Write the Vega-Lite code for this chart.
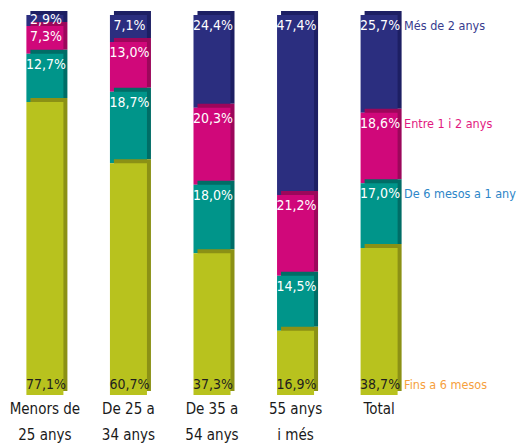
{
  "$schema": "https://vega.github.io/schema/vega-lite/v6.json",
  "width": 418,
  "height": 380,
  "autosize": {"type": "none"},
  "padding": {"left": 3, "top": 15, "right": 96, "bottom": 52},
  "background": "white",
  "config": {
    "view": {"stroke": null},
    "locale": {"number": {"decimal": ",", "thousands": ".", "grouping": [3], "currency": ["", "%"]}},
    "text": {"font": "DejaVu Sans Condensed, sans-serif"}
  },
  "data": {
    "values": [
      {"cat": "Menors de 25 anys", "serie": "Fins a 6 mesos", "k": 1, "v": 77.1},
      {"cat": "Menors de 25 anys", "serie": "De 6 mesos a 1 any", "k": 2, "v": 12.7},
      {"cat": "Menors de 25 anys", "serie": "Entre 1 i 2 anys", "k": 3, "v": 7.3},
      {"cat": "Menors de 25 anys", "serie": "Més de 2 anys", "k": 4, "v": 2.9},
      {"cat": "De 25 a 34 anys", "serie": "Fins a 6 mesos", "k": 1, "v": 60.7},
      {"cat": "De 25 a 34 anys", "serie": "De 6 mesos a 1 any", "k": 2, "v": 18.7},
      {"cat": "De 25 a 34 anys", "serie": "Entre 1 i 2 anys", "k": 3, "v": 13.0},
      {"cat": "De 25 a 34 anys", "serie": "Més de 2 anys", "k": 4, "v": 7.1},
      {"cat": "De 35 a 54 anys", "serie": "Fins a 6 mesos", "k": 1, "v": 37.3},
      {"cat": "De 35 a 54 anys", "serie": "De 6 mesos a 1 any", "k": 2, "v": 18.0},
      {"cat": "De 35 a 54 anys", "serie": "Entre 1 i 2 anys", "k": 3, "v": 20.3},
      {"cat": "De 35 a 54 anys", "serie": "Més de 2 anys", "k": 4, "v": 24.4},
      {"cat": "55 anys i més", "serie": "Fins a 6 mesos", "k": 1, "v": 16.9},
      {"cat": "55 anys i més", "serie": "De 6 mesos a 1 any", "k": 2, "v": 14.5},
      {"cat": "55 anys i més", "serie": "Entre 1 i 2 anys", "k": 3, "v": 21.2},
      {"cat": "55 anys i més", "serie": "Més de 2 anys", "k": 4, "v": 47.4},
      {"cat": "Total", "serie": "Fins a 6 mesos", "k": 1, "v": 38.7},
      {"cat": "Total", "serie": "De 6 mesos a 1 any", "k": 2, "v": 17.0},
      {"cat": "Total", "serie": "Entre 1 i 2 anys", "k": 3, "v": 18.6},
      {"cat": "Total", "serie": "Més de 2 anys", "k": 4, "v": 25.7}
    ]
  },
  "transform": [
    {"stack": "v", "groupby": ["cat"], "sort": [{"field": "k", "order": "ascending"}], "offset": "normalize", "as": ["y0", "y1"]}
  ],
  "encoding": {
    "x": {
      "field": "cat", "type": "nominal", "sort": null,
      "scale": {"paddingInner": 0.557, "paddingOuter": 0.28},
      "axis": {
        "title": null, "domain": false, "ticks": false, "labelAngle": 0,
        "labelFont": "DejaVu Sans Condensed, sans-serif",
        "labelFontSize": 15, "labelColor": "#1a1a1a", "labelLineHeight": 26, "labelPadding": 6,
        "labelExpr": "datum.value == 'Menors de 25 anys' ? ['Menors de', '25 anys'] : datum.value == 'De 25 a 34 anys' ? ['De 25 a', '34 anys'] : datum.value == 'De 35 a 54 anys' ? ['De 35 a', '54 anys'] : datum.value == '55 anys i més' ? ['55 anys', 'i més'] : datum.value"
      }
    },
    "y": {"field": "y0", "type": "quantitative", "scale": {"domain": [0, 1], "nice": false}, "axis": null}
  },
  "layer": [
    {"transform": [{"filter": "datum.k == 4"}], "mark": {"type": "bar", "color": "#1d1f63", "xOffset": 4, "yOffset": -4, "y2Offset": -4}, "encoding": {"y2": {"field": "y1"}}},
    {"transform": [{"filter": "datum.k == 4"}], "mark": {"type": "bar", "color": "#2b2e7f"}, "encoding": {"y2": {"field": "y1"}}},
    {"transform": [{"filter": "datum.k == 3"}], "mark": {"type": "bar", "color": "#9c075b", "xOffset": 4, "yOffset": -4, "y2Offset": -4}, "encoding": {"y2": {"field": "y1"}}},
    {"transform": [{"filter": "datum.k == 3"}], "mark": {"type": "bar", "color": "#d0087a"}, "encoding": {"y2": {"field": "y1"}}},
    {"transform": [{"filter": "datum.k == 2"}], "mark": {"type": "bar", "color": "#006d66", "xOffset": 4, "yOffset": -4, "y2Offset": -4}, "encoding": {"y2": {"field": "y1"}}},
    {"transform": [{"filter": "datum.k == 2"}], "mark": {"type": "bar", "color": "#00958a"}, "encoding": {"y2": {"field": "y1"}}},
    {"transform": [{"filter": "datum.k == 1"}], "mark": {"type": "bar", "color": "#8b9115", "xOffset": 4, "yOffset": -4, "y2Offset": -4}, "encoding": {"y2": {"field": "y1"}}},
    {"transform": [{"filter": "datum.k == 1"}], "mark": {"type": "bar", "color": "#b8c21e"}, "encoding": {"y2": {"field": "y1"}}},
    {
      "transform": [{"filter": "datum.k > 1 && datum.v >= 5"}],
      "mark": {"type": "text", "color": "white", "fontSize": 14, "baseline": "top", "align": "center", "dy": 4, "dx": 1},
      "encoding": {"y": {"field": "y1", "type": "quantitative"}, "text": {"field": "v", "type": "quantitative", "format": "$.1f"}}
    },
    {
      "transform": [{"filter": "datum.k > 1 && datum.v < 5"}],
      "mark": {"type": "text", "color": "white", "fontSize": 14, "baseline": "top", "align": "center", "dy": -2, "dx": 1},
      "encoding": {"y": {"field": "y1", "type": "quantitative"}, "text": {"field": "v", "type": "quantitative", "format": "$.1f"}}
    },
    {
      "transform": [{"filter": "datum.k == 1"}],
      "mark": {"type": "text", "color": "#1e1e1e", "fontSize": 14, "baseline": "bottom", "align": "center", "dy": -3, "dx": 1},
      "encoding": {"text": {"field": "v", "type": "quantitative", "format": "$.1f"}}
    },
    {
      "transform": [{"filter": "datum.cat == 'Total' && datum.k > 1"}],
      "mark": {"type": "text", "fontSize": 12.5, "baseline": "top", "align": "left", "dy": 5, "dx": 25},
      "encoding": {
        "y": {"field": "y1", "type": "quantitative"},
        "text": {"field": "serie"},
        "color": {"field": "serie", "type": "nominal", "legend": null,
          "scale": {"domain": ["Més de 2 anys", "Entre 1 i 2 anys", "De 6 mesos a 1 any"], "range": ["#373b8e", "#e2197f", "#2d86c8"]}}
      }
    },
    {
      "transform": [{"filter": "datum.cat == 'Total' && datum.k == 1"}],
      "mark": {"type": "text", "fontSize": 12.5, "baseline": "bottom", "align": "left", "dy": -3, "dx": 25, "color": "#f6a03d"},
      "encoding": {"text": {"field": "serie"}}
    }
  ]
}
